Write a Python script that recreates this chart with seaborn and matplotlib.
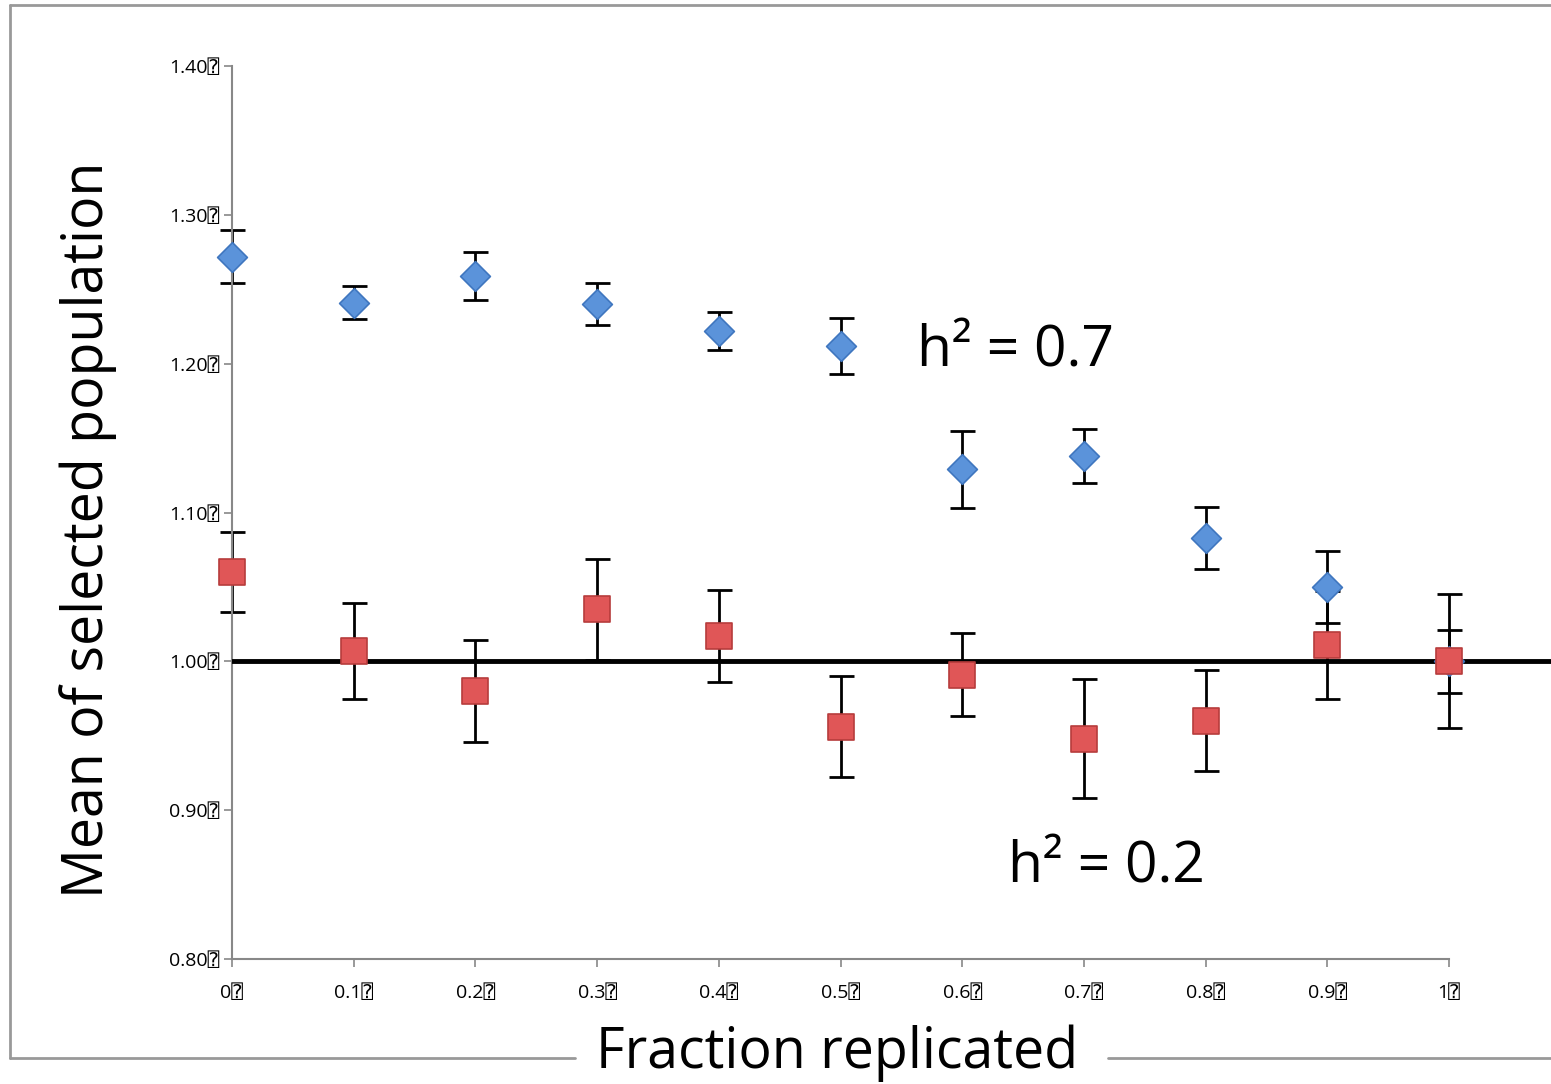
import matplotlib
matplotlib.use("Agg")
import matplotlib.pyplot as plt
import seaborn as sns
import pandas as pd
from matplotlib.lines import Line2D

fraction = [0.0, 0.1, 0.2, 0.3, 0.4, 0.5, 0.6, 0.7, 0.8, 0.9, 1.0]
high_mean = [1.272, 1.241, 1.259, 1.240, 1.222, 1.212, 1.129, 1.138, 1.083, 1.050, 1.000]
high_err = [0.018, 0.011, 0.016, 0.014, 0.013, 0.019, 0.026, 0.018, 0.021, 0.024, 0.021]
low_mean = [1.060, 1.007, 0.980, 1.035, 1.017, 0.956, 0.991, 0.948, 0.960, 1.011, 1.000]
low_err = [0.027, 0.032, 0.034, 0.034, 0.031, 0.034, 0.028, 0.040, 0.034, 0.036, 0.045]
x_ticks = [0.0, 0.1, 0.2, 0.3, 0.4, 0.5, 0.6, 0.7, 0.8, 0.9, 1.0]
x_tick_labels = ["0", "0.1", "0.2", "0.3", "0.4", "0.5", "0.6", "0.7", "0.8", "0.9", "1"]
y_ticks = [0.80, 0.90, 1.00, 1.10, 1.20, 1.30, 1.40]
y_tick_labels = ["0.80", "0.90", "1.00", "1.10", "1.20", "1.30", "1.40"]

sns.set_style("white")
plt.rcParams['font.family'] = ['Open Sans', 'DejaVu Sans', 'DejaVu Sans Mono']
plt.rcParams['text.color'] = 'black'
plt.rcParams['xtick.color'] = 'black'
plt.rcParams['ytick.color'] = 'black'

W, H = 1551, 1084
fig = plt.figure(figsize=(W / 100, H / 100), dpi=100)
x0, x1 = 232, 1551
y0, y1 = 66, 959
ax = fig.add_axes([x0 / W, 1 - y1 / H, (x1 - x0) / W, (y1 - y0) / H])
ax.set_xlim(0, (x1 - x0) / 1217.0)
ax.set_ylim(0.80, 1.40)

df_hi = pd.DataFrame({"x": fraction, "y": high_mean})
df_lo = pd.DataFrame({"x": fraction, "y": low_mean})

ax.axhline(1.0, color="black", lw=3.5, zorder=3)

for m, e in [(high_mean, high_err), (low_mean, low_err)]:
    eb = ax.errorbar(fraction, m, yerr=e, fmt="none", ecolor="black",
                     elinewidth=2, capsize=9, capthick=2, zorder=2)
    for art in eb.lines[1] + eb.lines[2]:
        art.set_clip_on(False)

sns.scatterplot(data=df_hi, x="x", y="y", marker="D", s=230, color="#5B93DA",
                edgecolor="#3F76BF", linewidth=1.2, ax=ax, zorder=4, legend=False,
                clip_on=False)
sns.scatterplot(data=df_lo, x="x", y="y", marker="s", s=360, color="#E05657",
                edgecolor="#B63C3C", linewidth=1.2, ax=ax, zorder=5, legend=False,
                clip_on=False)

ax.set_xticks(x_ticks)
ax.set_xticklabels([t + "⍰" for t in x_tick_labels], fontsize=14)
ax.set_yticks(y_ticks)
ax.set_yticklabels([t + "⍰" for t in y_tick_labels], fontsize=14)
ax.tick_params(axis="both", length=6, width=1.2, color="#888888", direction="out",
               bottom=True, left=True, labelcolor="black")
ax.tick_params(axis="x", pad=12)
ax.tick_params(axis="y", pad=3)
for s in ["top", "right"]:
    ax.spines[s].set_visible(False)
ax.spines["left"].set_color("#888888")
ax.spines["bottom"].set_color("#888888")
ax.spines["left"].set_linewidth(1.5)
ax.spines["bottom"].set_linewidth(1.5)
ax.spines["bottom"].set_bounds(0, 1.0)
ax.set_xlabel("")
ax.set_ylabel("")

ax.text(0.563, 1.208, "h² = 0.7", fontsize=41, va="center", ha="left", color="black")
ax.text(0.638, 0.861, "h² = 0.2", fontsize=41, va="center", ha="left", color="black")

fig.text(837 / W, 1 - 1053 / H, "Fraction replicated", fontsize=40,
         ha="center", va="center", color="black")
fig.text(88 / W, 1 - 530 / H, "Mean of selected population", fontsize=40,
         ha="center", va="center", rotation=90, color="black")

# outer frame
fc = "#999999"
def fl(xs, ys):
    fig.add_artist(Line2D([x / W for x in xs], [1 - y / H for y in ys],
                          color=fc, lw=2, transform=fig.transFigure))
fl([10, 1551], [5, 5])
fl([10, 10], [5, 1058])
fl([10, 575], [1058, 1058])
fl([1108, 1551], [1058, 1058])

fig.savefig("out.png", dpi=100)
